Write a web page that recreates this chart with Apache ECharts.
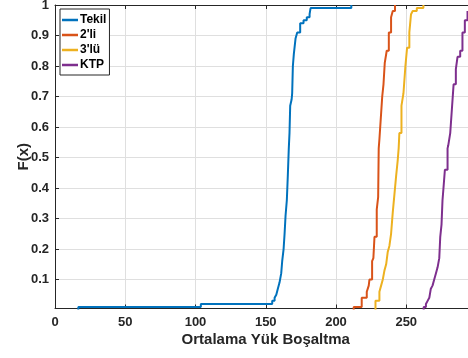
<!DOCTYPE html>
<html>
<head>
<meta charset="utf-8">
<script src="https://cdn.jsdelivr.net/npm/echarts@6/dist/echarts.min.js"></script>
<style>
  html, body { margin: 0; padding: 0; background: #fff; }
  #chart { width: 468px; height: 358px; }
</style>
</head>
<body>
<div id="chart"></div>
<script>
// Empirical CDFs of the mean unloading value for each configuration.
// Each pair of arrays lists the step positions and the CDF level reached there.
const seriesNames = ['Tekil', "2'li", "3'lü", 'KTP'];

const tekilX = [16.6, 16.6, 103.8, 154.6, 156.3, 157.5, 158.6, 159.8, 161.0, 161.7, 162.7, 163.4, 164.1, 165.0, 165.7, 166.4, 166.9, 167.4, 168.4, 168.8, 169.3, 170.0, 171.2, 172.4, 174.5, 176.9, 179.2, 181.2, 181.9, 210.9];
const tekilF = [0, 0.01, 0.02, 0.03, 0.04, 0.05, 0.07, 0.09, 0.12, 0.16, 0.20, 0.25, 0.31, 0.36, 0.44, 0.53, 0.58, 0.67, 0.69, 0.71, 0.80, 0.84, 0.89, 0.91, 0.94, 0.95, 0.96, 0.97, 0.99, 1.00];

const ikiliX = [212.6, 212.6, 218.3, 221.9, 223.3, 223.8, 225.7, 226.6, 227.4, 229.0, 230.0, 230.4, 230.9, 231.9, 232.9, 233.8, 234.7, 236.1, 237.6, 239.2, 240.4, 242.0];
const ikiliF = [0, 0.01, 0.04, 0.06, 0.08, 0.10, 0.16, 0.17, 0.24, 0.33, 0.37, 0.53, 0.56, 0.63, 0.70, 0.74, 0.81, 0.85, 0.91, 0.96, 0.98, 1.00];

const ucluX = [228.1, 228.1, 230.9, 232.1, 233.3, 234.5, 235.7, 236.8, 238.0, 239.2, 240.4, 241.6, 242.8, 243.9, 244.6, 245.1, 246.6, 248.0, 249.4, 250.6, 252.2, 253.4, 254.6, 257.5, 262.2];
const ucluF = [0, 0.03, 0.06, 0.08, 0.10, 0.13, 0.15, 0.19, 0.21, 0.25, 0.32, 0.38, 0.44, 0.49, 0.53, 0.58, 0.67, 0.71, 0.80, 0.86, 0.91, 0.97, 0.98, 0.99, 1.00];

const ktpX = [262.4, 262.4, 264.0, 265.2, 266.4, 267.5, 268.7, 269.9, 271.1, 272.3, 273.5, 274.2, 275.1, 275.8, 276.5, 277.5, 279.4, 279.9, 281.3, 282.5, 283.7, 285.3, 286.5, 288.4, 290.0, 291.7, 293.6];
const ktpF = [0, 0.01, 0.02, 0.03, 0.04, 0.07, 0.08, 0.10, 0.12, 0.14, 0.17, 0.24, 0.28, 0.36, 0.40, 0.46, 0.53, 0.54, 0.58, 0.66, 0.74, 0.79, 0.83, 0.85, 0.91, 0.95, 0.98];

const xTicks = [0, 50, 100, 150, 200, 250, 300];
const yTicks = [0.1, 0.2, 0.3, 0.4, 0.5, 0.6, 0.7, 0.8, 0.9, 1];

const colors = ['#0072BD', '#D95319', '#EDB120', '#7E2F8E'];
const ink = '#262626';
const gridColor = '#dfdfdf';
const font = '"Liberation Sans", Arial, Helvetica, sans-serif';

const pairs = (xs, fs) => xs.map((x, i) => [x, fs[i]]);
const seriesData = [pairs(tekilX, tekilF), pairs(ikiliX, ikiliF), pairs(ucluX, ucluF), pairs(ktpX, ktpF)];

const chart = echarts.init(document.getElementById('chart'), null, { renderer: 'canvas' });

chart.setOption({
  animation: false,
  backgroundColor: '#fff',
  // the x range runs a little past the right edge of the canvas
  grid: { left: 55, right: -8.5, top: 5, bottom: 49.5, outerBoundsMode: 'none', containLabel: false },
  legend: {
    orient: 'vertical',
    left: 60,
    top: 9,
    padding: [4, 3, 3, 2],
    icon: 'rect',
    itemWidth: 16,
    itemHeight: 2.5,
    itemGap: 1,
    backgroundColor: '#fff',
    borderColor: ink,
    borderWidth: 1,
    borderRadius: 0,
    textStyle: { fontFamily: font, fontWeight: 'bold', fontSize: 12, color: '#000', lineHeight: 14, padding: [0, 0, 0, -3] },
    data: seriesNames
  },
  xAxis: [
    {
      type: 'value',
      min: xTicks[0],
      max: xTicks[xTicks.length - 1],
      interval: 50,
      name: 'Ortalama Yük Boşaltma',
      nameLocation: 'middle',
      nameGap: 24,
      nameMoveOverlap: false,
      nameTextStyle: { fontFamily: font, fontWeight: 'bold', fontSize: 15, color: ink },
      axisLine: { show: true, onZero: false, lineStyle: { color: ink, width: 1 } },
      axisTick: { show: true, inside: true, length: 4, lineStyle: { color: ink } },
      axisLabel: { fontFamily: font, fontWeight: 'bold', fontSize: 13, color: ink, margin: 7, showMaxLabel: false },
      splitLine: { show: true, lineStyle: { color: gridColor, width: 1 } }
    },
    {
      type: 'value',
      position: 'top',
      min: xTicks[0],
      max: xTicks[xTicks.length - 1],
      interval: 50,
      axisLine: { show: true, onZero: false, lineStyle: { color: ink, width: 1 } },
      axisTick: { show: true, inside: true, length: 4, lineStyle: { color: ink } },
      axisLabel: { show: false },
      splitLine: { show: false }
    }
  ],
  yAxis: {
    type: 'value',
    min: 0.005,
    max: 1,
    name: 'F(x)',
    nameLocation: 'middle',
    nameGap: 24,
    nameMoveOverlap: false,
    nameTextStyle: { fontFamily: font, fontWeight: 'bold', fontSize: 15, color: ink },
    axisLine: { show: true, lineStyle: { color: ink, width: 1 } },
    axisTick: { show: true, inside: true, length: 4, lineStyle: { color: ink }, customValues: yTicks },
    axisLabel: {
      fontFamily: font, fontWeight: 'bold', fontSize: 13, color: ink, margin: 6,
      customValues: yTicks,
      formatter: v => String(Math.round(v * 10) / 10)
    },
    splitLine: { show: true, lineStyle: { color: gridColor, width: 1 } }
  },
  series: seriesNames.map((name, i) => ({
    name,
    type: 'line',
    xAxisIndex: 0,
    data: seriesData[i],
    step: 'end',
    symbol: 'none',
    showSymbol: false,
    clip: true,
    color: colors[i],
    lineStyle: { color: colors[i], width: 2 },
    itemStyle: { color: colors[i] }
  }))
});
</script>
</body>
</html>
